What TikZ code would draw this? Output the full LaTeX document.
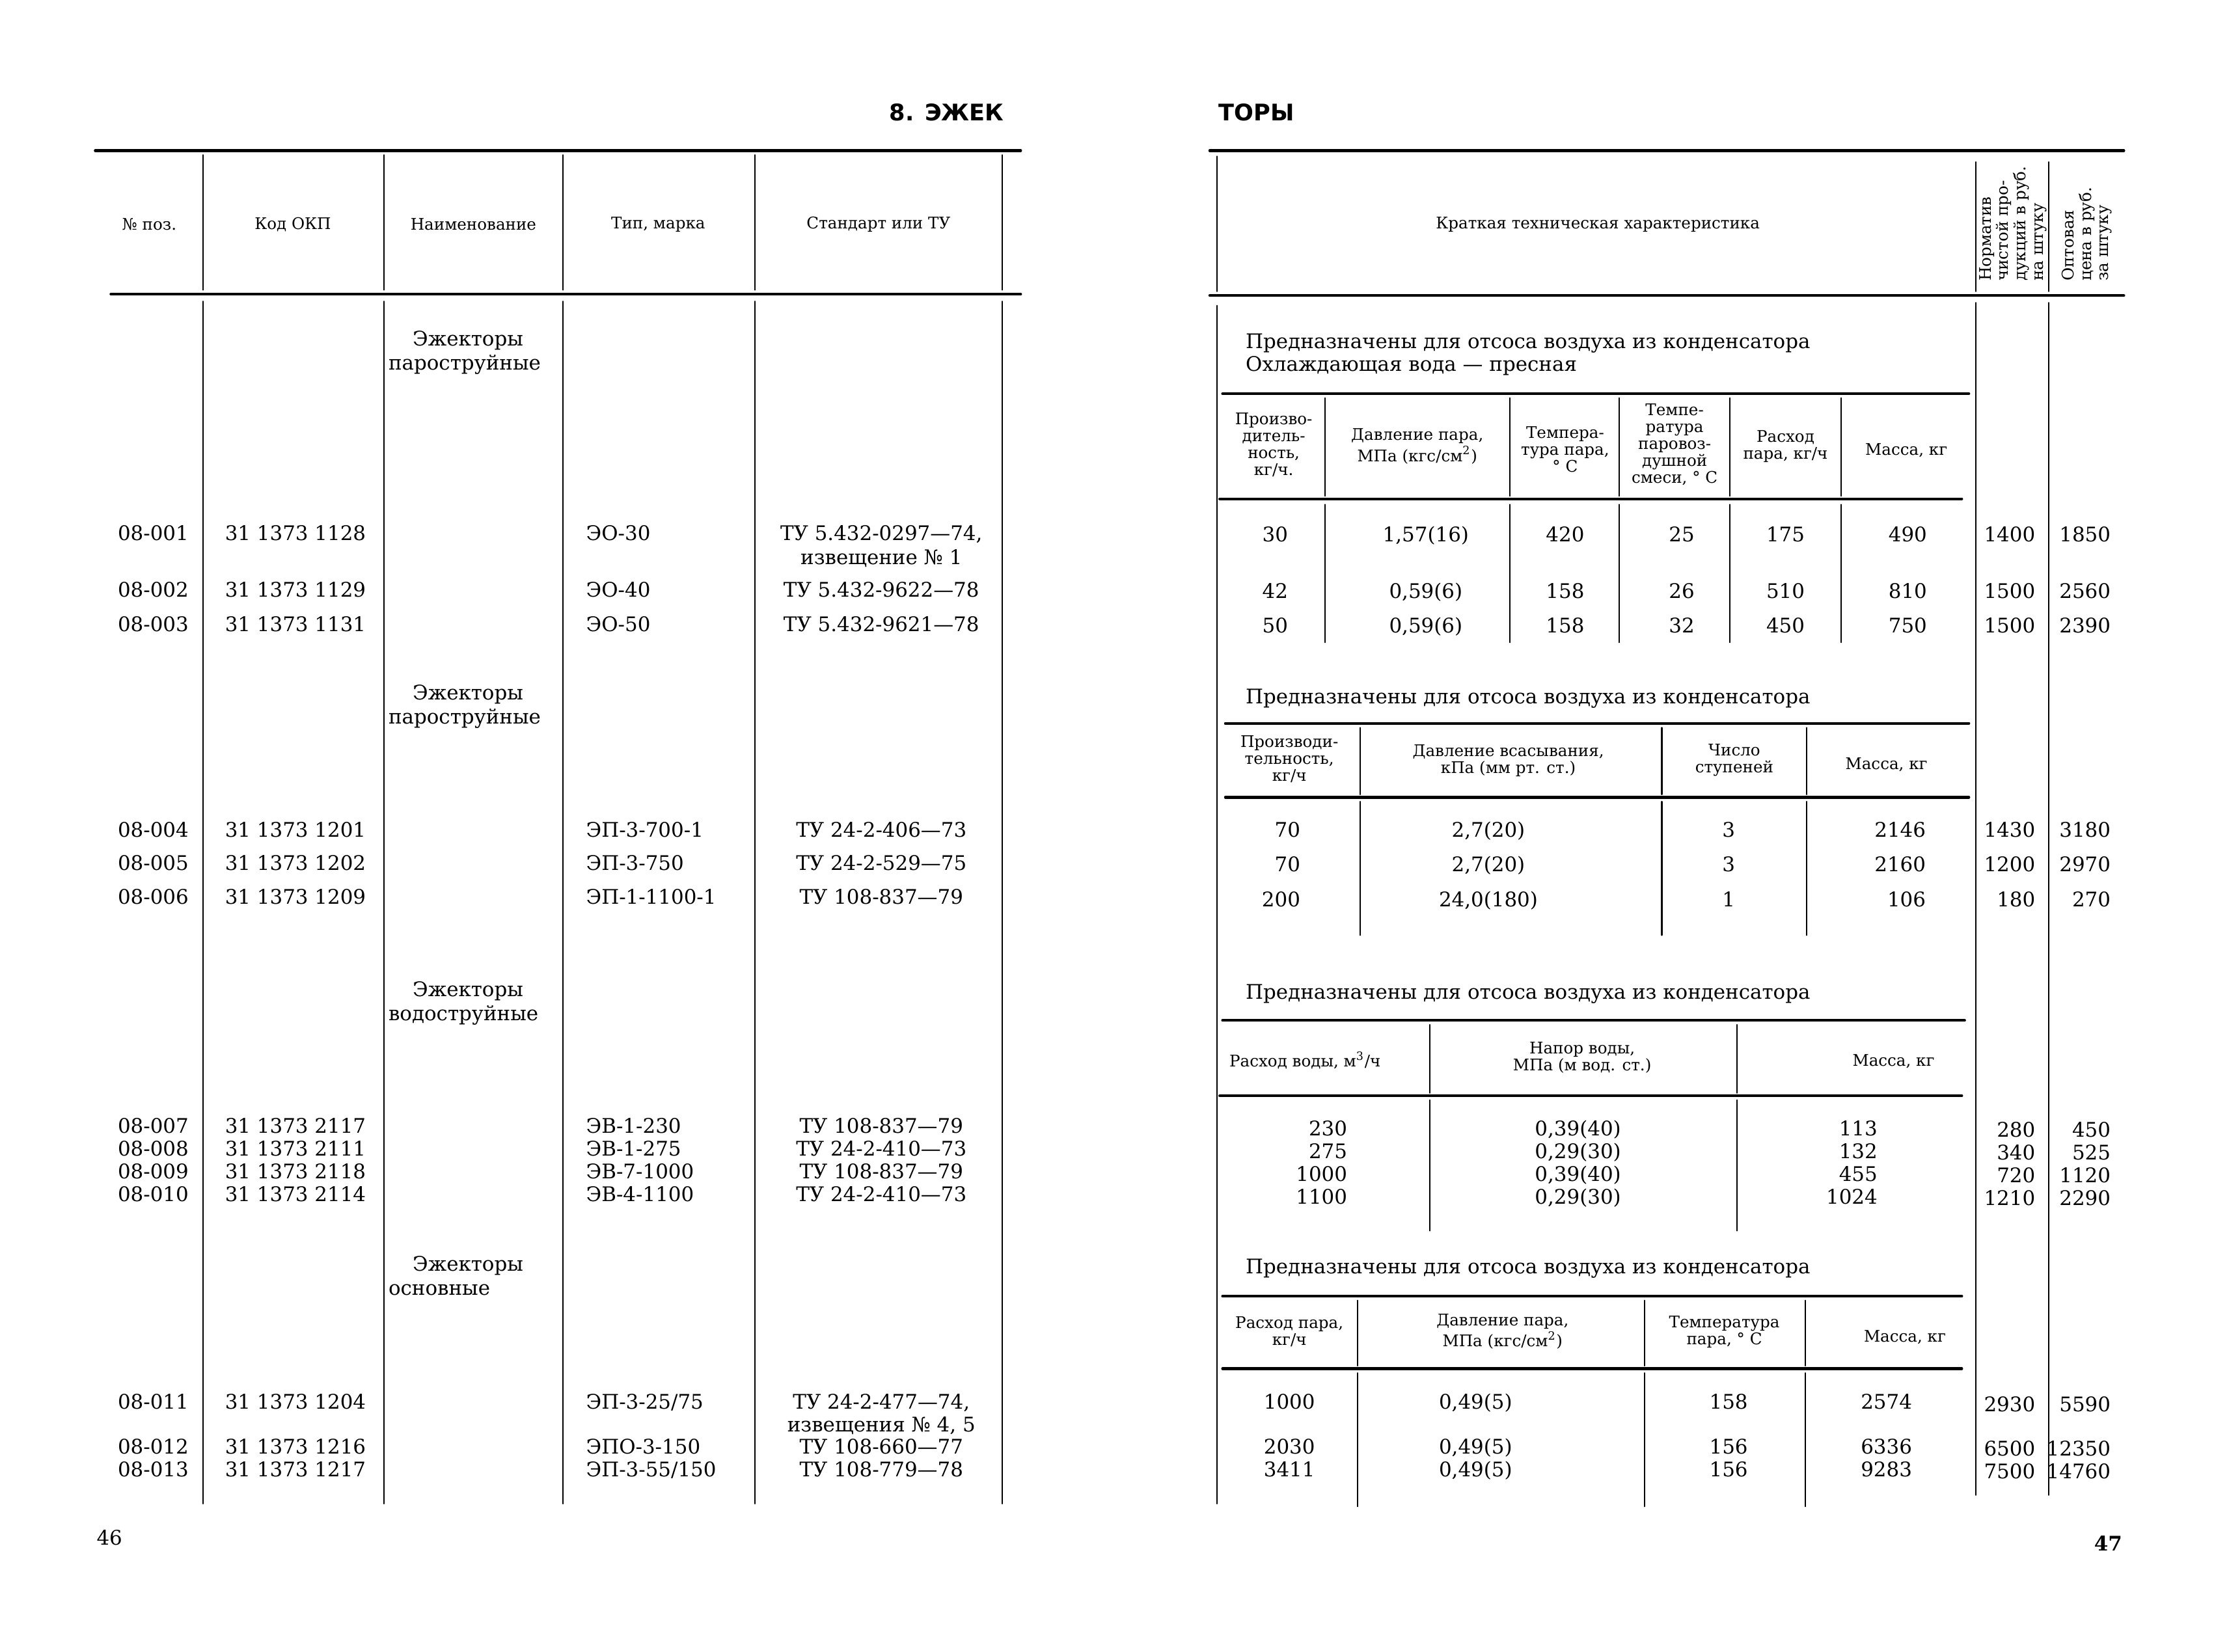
\documentclass[tikz,border=0pt]{standalone}
\usepackage{fontspec}
\setmainfont{DejaVu Serif}
\newfontfamily\titlefont{DejaVu Sans}
\newcommand\bodyfs{\fontsize{8.8}{10.4}\selectfont}
\newcommand\headfs{\fontsize{7}{7.4}\selectfont}
\tikzset{
  hrule/.style={line width=1.2pt},
  vrule/.style={line width=0.6pt},
  body/.style={font=\bodyfs, inner sep=0pt, anchor=mid},
  head/.style={font=\headfs, align=center, inner sep=0pt},
  ttl/.style={font=\titlefont\bfseries\fontsize{10}{12}\selectfont, inner sep=0pt},
}
\begin{document}
\begin{tikzpicture}[x=0.021843cm, y=-0.021843cm, line cap=round]
	\useasboundingbox (0,0) rectangle (1568,1162);
	\node[ttl] (ttlA) at (666,79) {8. ЭЖЕК};
	\node[ttl] (ttlB) at (884,79) {ТОРЫ};
	\node[body] (pgA) at (77,1083) {46};
	\node[body, font=\bodyfs\bfseries] (pgB) at (1483,1087) {47};
	% rules
	\draw[hrule] (67,106)--(718,106) (78,207)--(718,207) (851,106)--(1494,106) (851,208)--(1494,208);
	\foreach \a/\b/\y in {860/1385/277, 858/1380/351, 862/1385/509, 862/1385/561, 860/1382/718, 858/1380/771, 860/1380/912, 860/1380/963}
	\draw[hrule] (\a,\y)--(\b,\y);
	\foreach \x in {143,270,396,531,705}
	\draw[vrule] (\x,109)--(\x,204) (\x,212)--(\x,1058);
	\draw[vrule] (856,110)--(856,205) (856,215)--(856,1058);
	\foreach \x in {1390,1441}
	\draw[vrule] (\x,114)--(\x,205) (\x,213)--(\x,1052);
	\foreach \x/\a/\b/\c/\d in {932/280/349/355/452, 1062/280/349/355/452, 1139/280/349/355/452, 1217/280/349/355/452, 1295/280/349/355/452, 957/512/559/564/658, 1169/512/559/564/658, 1271/512/559/564/658, 1006/721/769/774/866, 1222/721/769/774/866, 955/915/961/966/1060, 1157/915/961/966/1060, 1270/915/961/966/1060}
	\draw[vrule] (\x,\a)--(\x,\b) (\x,\c)--(\x,\d);
	% headers
	\foreach \x/\t [count=\i] in {105/№ поз., 206/Код ОКП, 333/Наименование, 463/{Тип, марка}, 618/Стандарт или ТУ, 1124/Краткая техническая характеристика}
	\node[head] (hd\i) at (\x,158) {\t};
	\node[head, rotate=90, anchor=west, align=left, font=\fontsize{7}{7.6}\selectfont] (norm) at (1416,198) {Норматив\\чистой про-\\дукций в руб.\\на штуку};
	\node[head, rotate=90, anchor=west, align=left, font=\fontsize{7}{7.6}\selectfont] (opt) at (1468,198) {Оптовая\\цена в руб.\\за штуку};
	\foreach \x/\y/\t [count=\i] in {
		896/313/{Произво-\\дитель-\\ность,\\кг/ч.}, 997/314/{Давление пара,\\МПа (кгс/см\textsuperscript{2})}, 1101/316/{Темпера-\\тура пара,\\° С}, 1178/313/{Темпе-\\ратура\\паровоз-\\душной\\смеси, ° С}, 1256/314/{Расход\\пара, кг/ч}, 1341/317/{Масса, кг},
		907/534/{Производи-\\тельность,\\кг/ч}, 1061/535/{Давление всасывания,\\кПа (мм рт. ст.)}, 1220/535/{Число\\ступеней}, 1327/538/{Масса, кг},
		918/746/{Расход воды, м\textsuperscript{3}/ч}, 1113/744/{Напор воды,\\МПа (м вод. ст.)}, 1332/747/{Масса, кг},
		907/937/{Расход пара,\\кг/ч}, 1057/937/{Давление пара,\\МПа (кгс/см\textsuperscript{2})}, 1213/937/{Температура\\пара, ° С}, 1340/941/{Масса, кг}}
	\node[head] (sh\i) at (\x,\y) {\t};
	% left page
	\foreach \g/\y [count=\i] in {пароструйные/239, пароструйные/488, водоструйные/697, основные/890}{
		\node[body, anchor=mid west] (grA\i) at (290,\y) {Эжекторы};
		\node[body, anchor=mid west] (grB\i) at (273,\y+17) {\g};
	}
	\foreach \p/\c/\t/\u/\y [count=\i] in {
		08-001/31 1373 1128/ЭО-30/{ТУ 5.432-0297—74,}/376, 08-002/31 1373 1129/ЭО-40/ТУ 5.432-9622—78/416, 08-003/31 1373 1131/ЭО-50/ТУ 5.432-9621—78/440,
		08-004/31 1373 1201/ЭП-3-700-1/ТУ 24-2-406—73/585, 08-005/31 1373 1202/ЭП-3-750/ТУ 24-2-529—75/608, 08-006/31 1373 1209/ЭП-1-1100-1/ТУ 108-837—79/632,
		08-007/31 1373 2117/ЭВ-1-230/ТУ 108-837—79/793, 08-008/31 1373 2111/ЭВ-1-275/ТУ 24-2-410—73/809, 08-009/31 1373 2118/ЭВ-7-1000/ТУ 108-837—79/825, 08-010/31 1373 2114/ЭВ-4-1100/ТУ 24-2-410—73/841,
		08-011/31 1373 1204/{ЭП-3-25/75}/{ТУ 24-2-477—74,}/987, 08-012/31 1373 1216/ЭПО-3-150/ТУ 108-660—77/1019, 08-013/31 1373 1217/{ЭП-3-55/150}/ТУ 108-779—78/1035}{
		\node[body, anchor=mid east] (pos\i) at (133,\y) {\p};
		\node[body, anchor=mid west] (okp\i) at (158,\y) {\c};
		\node[body, anchor=mid west] (typ\i) at (412,\y) {\t};
		\node[body] (tu\i) at (620,\y) {\u};
	}
	\node[body] (tuA) at (620,393) {извещение № 1};
	\node[body] (tuB) at (620,1003) {извещения № 4, 5};
	% right page
	\foreach \y/\t [count=\i] in {241/Предназначены для отсоса воздуха из конденсатора, 257/Охлаждающая вода — пресная, 491/Предназначены для отсоса воздуха из конденсатора, 699/Предназначены для отсоса воздуха из конденсатора, 892/Предназначены для отсоса воздуха из конденсатора}
	\node[body, anchor=mid west] (use\i) at (876,\y) {\t};
	\foreach \a/\b/\c/\d/\e/\f/\y [count=\i] in {30/{1,57(16)}/420/25/175/490/377, 42/{0,59(6)}/158/26/510/810/417, 50/{0,59(6)}/158/32/450/750/441}{
		\node[body] (eoA\i) at (897,\y) {\a};
		\node[body] (eoB\i) at (1003,\y) {\b};
		\node[body] (eoC\i) at (1101,\y) {\c};
		\node[body] (eoD\i) at (1183,\y) {\d};
		\node[body] (eoE\i) at (1256,\y) {\e};
		\node[body] (eoF\i) at (1342,\y) {\f};
	}
	\foreach \a/\b/\c/\d/\y [count=\i] in {70/{2,7(20)}/3/2146/585, 70/{2,7(20)}/3/2160/609, 200/{24,0(180)}/1/106/634}{
		\node[body, anchor=mid east] (epA\i) at (915,\y) {\a};
		\node[body] (epB\i) at (1047,\y) {\b};
		\node[body] (epC\i) at (1216,\y) {\c};
		\node[body, anchor=mid east] (epD\i) at (1355,\y) {\d};
	}
	\foreach \a/\b/\c/\y [count=\i] in {230/{0,39(40)}/113/795, 275/{0,29(30)}/132/811, 1000/{0,39(40)}/455/827, 1100/{0,29(30)}/1024/843}{
		\node[body, anchor=mid east] (evA\i) at (948,\y) {\a};
		\node[body] (evB\i) at (1110,\y) {\b};
		\node[body, anchor=mid east] (evC\i) at (1321,\y) {\c};
	}
	\foreach \a/\b/\c/\d/\y [count=\i] in {1000/{0,49(5)}/158/2574/987, 2030/{0,49(5)}/156/6336/1019, 3411/{0,49(5)}/156/9283/1035}{
		\node[body] (osA\i) at (907,\y) {\a};
		\node[body] (osB\i) at (1038,\y) {\b};
		\node[body] (osC\i) at (1216,\y) {\c};
		\node[body] (osD\i) at (1327,\y) {\d};
	}
	\foreach \n/\o/\y [count=\i] in {1400/1850/377, 1500/2560/417, 1500/2390/441, 1430/3180/585, 1200/2970/609, 180/270/634, 280/450/796, 340/525/812, 720/1120/828, 1210/2290/844, 2930/5590/989, 6500/12350/1020, 7500/14760/1036}{
		\node[body, anchor=mid east] (nrm\i) at (1432,\y) {\n};
		\node[body, anchor=mid east] (opt\i) at (1485,\y) {\o};
	}
\end{tikzpicture}
\end{document}
